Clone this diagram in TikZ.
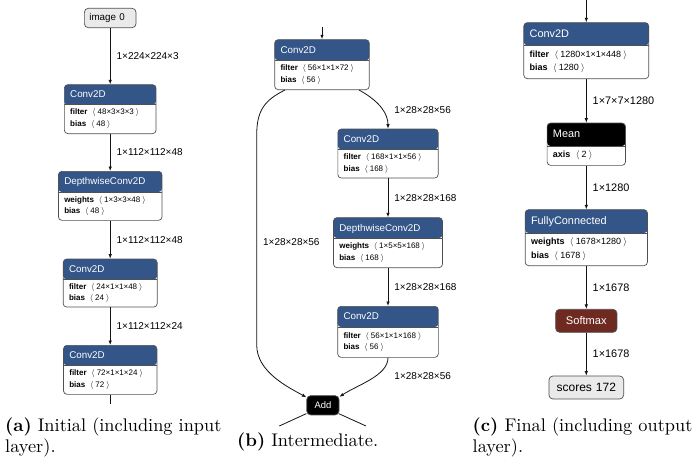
\documentclass[tikz,border=0pt]{standalone}
\usepackage{fontspec}
\usetikzlibrary{arrows.meta,positioning,calc}
\newfontfamily\netron{Liberation Sans}
\newfontfamily\capfont{lmroman10-regular.otf}[BoldFont=lmroman10-bold.otf]
\definecolor{layblue}{RGB}{51,85,136}
\definecolor{actred}{RGB}{110,42,32}
\definecolor{iogray}{RGB}{234,234,234}
\definecolor{boxline}{RGB}{80,80,80}
\definecolor{edgeclr}{RGB}{20,20,20}
\tikzset{
  lay/.style={draw=boxline,fill=white,rounded corners=3.5pt,line width=0.7pt,
              inner sep=0pt,anchor=north},
  hdr/.style 2 args={path picture={
      \fill[#1] (path picture bounding box.north west) rectangle
                ([yshift=-#2]path picture bounding box.north east);
      \draw[boxline,line width=0.7pt]
                ([yshift=-#2]path picture bounding box.north west) --
                ([yshift=-#2]path picture bounding box.north east);}},
  ttl/.style={anchor=west,inner sep=0pt,text=white,text height=.72em,text depth=0pt,
              font=\netron\fontsize{9.8}{11}\selectfont},
  att/.style={anchor=west,inner sep=0pt,align=left,
              font=\netron\fontsize{8}{11.7}\selectfont},
  io/.style={draw=boxline,fill=iogray,rounded corners=4pt,line width=0.7pt,
             inner ysep=0pt,inner xsep=5pt},
  op/.style={draw=boxline,rounded corners=4pt,line width=0.7pt,inner sep=0pt,
             text=white},
  ar/.style={-{Latex[length=4.5pt,width=3.5pt]},draw=edgeclr,line width=0.8pt},
  ln/.style={draw=edgeclr,line width=0.8pt},
  lbl/.style={right=6pt,inner sep=0pt,text=black,
              font=\netron\fontsize{10}{12}\selectfont},
  subcap/.style={anchor=north west,inner sep=0pt,align=left,
              font=\capfont\fontsize{18.3}{21.7}\selectfont},
}
\newcommand{\attr}[2]{\textbf{#1}\hspace{.6em}$\langle$\hspace{.25em}#2\hspace{.25em}$\rangle$}
\newcommand{\netlayer}[8]{% name, top centre, width, height, header, fill, title, attributes
  \node[lay,minimum width=#3,minimum height=#4,hdr={#6}{#5}] (#1) at (#2) {};
  \node[ttl] (#1t) at ([xshift=6pt,yshift=-#5/2]#1.north west) {#7};
  \node[att] (#1a) at ([xshift=6pt,yshift=-(#4+#5)/2]#1.north west) {#8};
}

\begin{document}
\begin{tikzpicture}[x=1pt,y=-1pt]
  \path[use as bounding box,fill=white] (0,0) rectangle (699,463);

  % panel (a)
  \node[io,text width=41.7pt,minimum height=19.4,align=left,
        font=\netron\fontsize{9.8}{11}\selectfont] (a0) at (110.2,18) {image 0};
  \netlayer{a1}{110.2,84.3}{91.7}{49}{20}{layblue}{Conv2D}
    {\attr{filter}{48×3×3×3}\\\attr{bias}{48}}
  \netlayer{a2}{110.2,171}{103.6}{49}{20.7}{layblue}{DepthwiseConv2D}
    {\attr{weights}{1×3×3×48}\\\attr{bias}{48}}
  \netlayer{a3}{110.2,258.7}{94}{48}{20.3}{layblue}{Conv2D}
    {\attr{filter}{24×1×1×48}\\\attr{bias}{24}}
  \netlayer{a4}{110.2,345}{93.4}{49}{20}{layblue}{Conv2D}
    {\attr{filter}{72×1×1×24}\\\attr{bias}{72}}
  \coordinate (aout) at (110.2,404);
  \draw[ar] (a0) -- node[lbl]{1×224×224×3} (a1);
  \draw[ar] (a1) -- node[lbl]{1×112×112×48} (a2);
  \draw[ar] (a2) -- node[lbl]{1×112×112×48} (a3);
  \draw[ar] (a3) -- node[lbl]{1×112×112×24} (a4);
  \draw[ln] (a4) -- (aout);

  % panel (b)
  \coordinate (bin) at (322,26.7);
  \netlayer{b1}{322,39.3}{94.6}{50}{20.7}{layblue}{Conv2D}
    {\attr{filter}{56×1×1×72}\\\attr{bias}{56}}
  \netlayer{b2}{388,128.7}{100.3}{49}{20.3}{layblue}{Conv2D}
    {\attr{filter}{168×1×1×56}\\\attr{bias}{168}}
  \netlayer{b3}{388,217.3}{109}{50}{20.4}{layblue}{DepthwiseConv2D}
    {\attr{weights}{1×5×5×168}\\\attr{bias}{168}}
  \netlayer{b4}{388,306}{100.7}{51}{20.7}{layblue}{Conv2D}
    {\attr{filter}{56×1×1×168}\\\attr{bias}{56}}
  \node[op,fill=black,minimum width=32.3,minimum height=19.3,
        font=\netron\fontsize{9.4}{11}\selectfont] (add) at (322.9,405.3) {Add};
  \coordinate (bl) at (279.3,426);
  \coordinate (br) at (366,426);
  \draw[ar] (bin) -- (b1);
  \draw[ar] ([xshift=37pt]b1.south) .. controls +(22,12) and +(0,-14) ..
    node[lbl,pos=.55,right=11pt]{1×28×28×56} (b2.north);
  \draw[ar] (b2) -- node[lbl]{1×28×28×168} (b3);
  \draw[ar] (b3) -- node[lbl]{1×28×28×168} (b4);
  \draw[ar] (b4.south) .. controls +(0,18) and +(18,-12) ..
    node[lbl,pos=.4,right=18pt]{1×28×28×56} ([yshift=-1.6pt]add.north east);
  % skip connection
  \draw[ar] ([xshift=-37pt]b1.south) .. controls +(-20,10) and +(0,-25) ..
    (256.7,135) -- node[lbl,pos=.51]{1×28×28×56} (256.7,345)
    .. controls +(0,27) and +(-18,-10) .. ([yshift=-2pt]add.north west);
  \draw[ln] ([yshift=1.7pt]add.south west) -- (bl);
  \draw[ln] ([xshift=-0.7pt,yshift=1.7pt]add.south east) -- (br);

  % panel (c)
  \begin{scope}[ttl/.append style={font=\netron\fontsize{10.9}{12}\selectfont},
                att/.append style={font=\netron\fontsize{9}{13.7}\selectfont},
                lbl/.append style={font=\netron\fontsize{10.9}{12}\selectfont}]
    \coordinate (cin) at (586.3,0);
    \netlayer{c1}{586.3,22.3}{125}{56}{22.7}{layblue}{Conv2D}
      {\attr{filter}{1280×1×1×448}\\\attr{bias}{1280}}
    \netlayer{c2}{586.3,122.7}{78.4}{42.3}{23}{black}{Mean}
      {\attr{axis}{2}}
    \netlayer{c3}{586.3,209.3}{122.3}{56}{23.4}{layblue}{FullyConnected}
      {\attr{weights}{1678×1280}\\\attr{bias}{1678}}
    \node[op,fill=actred,minimum width=61.3,minimum height=23,
          font=\netron\fontsize{11.1}{13}\selectfont] (c4) at (586.3,320.8) {Softmax};
    \node[io,text width=64.7pt,minimum height=23,align=center,
          font=\netron\fontsize{12}{14}\selectfont] (c5) at (586.3,387.5) {scores 172};
    \draw[ar] (cin) -- (c1);
    \draw[ar] (c1) -- node[lbl]{1×7×7×1280} (c2);
    \draw[ar] (c2) -- node[lbl]{1×1280} (c3);
    \draw[ar] (c3) -- node[lbl]{1×1678} (c4);
    \draw[ar] (c4) -- node[lbl]{1×1678} (c5);
  \end{scope}

  % captions
  \node[subcap] (capa) at (5,417.3) {\textbf{(a)} Initial (including input\\layer).};
  \node[subcap] (capb) at (237,432.3) {\textbf{(b)} Intermediate.};
  \node[subcap] (capc) at (472.5,417.3) {\textbf{(c)} Final (including output\\layer).};
\end{tikzpicture}
\end{document}
